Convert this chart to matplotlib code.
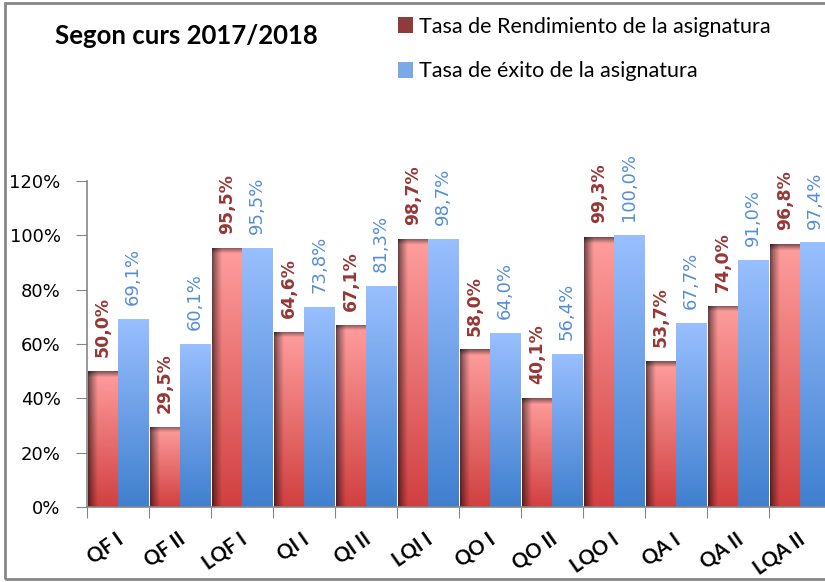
import numpy as np
import matplotlib
matplotlib.use("Agg")
import matplotlib.pyplot as plt
import matplotlib.transforms as mtransforms
from matplotlib.patches import Patch, Rectangle

categories = ["QF I", "QF II", "LQF I", "QI I", "QI II", "LQI I",
              "QO I", "QO II", "LQO I", "QA I", "QA II", "LQA II"]
rendimiento = [50.0, 29.5, 95.5, 64.6, 67.1, 98.7, 58.0, 40.1, 99.3, 53.7, 74.0, 96.8]
exito = [69.1, 60.1, 95.5, 73.8, 81.3, 98.7, 64.0, 56.4, 100.0, 67.7, 91.0, 97.4]
series_names = ["Tasa de Rendimiento de la asignatura", "Tasa de éxito de la asignatura"]
title = "Segon curs 2017/2018"
yticks = [0, 20, 40, 60, 80, 100, 120]

HEAD = ["Lato", "DejaVu Sans"]
NUM = ["DejaVu Sans"]
plt.rcParams['font.family'] = HEAD

W, H = 825, 582
fig = plt.figure(figsize=(W / 100, H / 100), dpi=100)
ax = fig.add_axes([87 / W, 1 - 507 / H, 744 / W, (507 - 181) / H])

x = np.arange(len(categories))
bw = 0.485
red_bars = ax.bar(x - bw / 2, rendimiento, width=bw, facecolor='none', edgecolor='none')
blue_bars = ax.bar(x + bw / 2, exito, width=bw, facecolor='none', edgecolor='none')


def gradient_img(h, kind):
    n, m = 300, 60
    t = np.linspace(0, 1, n)[:, None]
    s = np.linspace(0, 1, m)[None, :]
    if kind == 'red':
        top = np.array([1.0, 0.62, 0.62])
        bot = np.array([0.82, 0.25, 0.25])
    else:
        top = np.array([0.60, 0.75, 1.0])
        bot = np.array([0.25, 0.50, 0.81])
    img = top[None, None, :] * (1 - t[..., None]) + bot[None, None, :] * t[..., None]
    img = np.broadcast_to(img, (n, m, 3)).copy()
    if kind == 'red':
        left = 0.40 + 0.60 * np.clip(s / 0.32, 0, 1) ** 0.8
        img *= left[..., None]
        band = 2.2 / max(h, 1e-6)
        topf = 0.5 + 0.5 * np.clip(t / band, 0, 1)
        img *= topf[..., None]
    return np.clip(img, 0, 1)


for bars, kind in ((red_bars, 'red'), (blue_bars, 'blue')):
    for p in bars.patches:
        x0, w, h = p.get_x(), p.get_width(), p.get_height()
        im = ax.imshow(gradient_img(h, kind), extent=[x0, x0 + w, 0, h],
                       aspect='auto', origin='upper', zorder=2, interpolation='bilinear')
        im.set_clip_path(p)

red_txt = '#953735'
blue_txt = '#558ED5'
for xi, v in zip(x, rendimiento):
    ax.annotate(f"{v:.1f}%".replace('.', ','), (xi - bw / 2, v), xytext=(0, 10),
                textcoords='offset points', rotation=90, ha='center', va='bottom',
                color=red_txt, fontsize=12.4, fontweight='bold', family=NUM, zorder=3)
for xi, v in zip(x, exito):
    ax.annotate(f"{v:.1f}%".replace('.', ','), (xi + bw / 2, v), xytext=(0, 10),
                textcoords='offset points', rotation=90, ha='center', va='bottom',
                color=blue_txt, fontsize=13, family=NUM, zorder=3)

ax.set_xlim(-0.5, len(categories) - 0.5)
ax.set_ylim(0, 120)
ax.set_yticks(yticks)
ax.set_yticklabels([f"{v}%" for v in yticks], fontsize=13, family=NUM)
ax.set_xticks(np.arange(-0.5, len(categories), 1))
ax.set_xticklabels([])
ax.set_xticks(x, minor=True)
ax.set_xticklabels(categories, minor=True, rotation=35, fontsize=14.5,
                   fontweight='bold', ha='right', va='center', rotation_mode='anchor')
ax.tick_params(axis='x', which='minor', length=0, pad=22)
ax.tick_params(axis='x', which='major', length=8, color='#868686')
ax.tick_params(axis='y', length=8, color='#868686', pad=11)
shift = mtransforms.ScaledTranslation(3 / 100, 0, fig.dpi_scale_trans)
for lab in ax.get_xticklabels(minor=True):
    lab.set_transform(lab.get_transform() + shift)
for sp in ('top', 'right'):
    ax.spines[sp].set_visible(False)
for sp in ('left', 'bottom'):
    ax.spines[sp].set_color('#868686')
    ax.spines[sp].set_linewidth(1.2)

fig.text(55 / W, 1 - 36 / H, title, fontsize=18.5, fontweight='bold', va='center', ha='left')

handles = [Patch(facecolor='#8E3B3B', edgecolor='none'),
           Patch(facecolor='#7DA8E6', edgecolor='none')]
fig.legend(handles, series_names, loc='upper left', bbox_to_anchor=(389 / W, 1 - 8 / H),
           frameon=False, fontsize=15.5, handlelength=0.7, handleheight=0.8,
           handletextpad=0.3, labelspacing=1.15, borderaxespad=0)

fig.patches.append(Rectangle((5 / W, 1 - 579 / H), 1.2, (579 - 3) / H, transform=fig.transFigure,
                             fill=False, edgecolor='#868686', linewidth=2))

fig.savefig("out.png", dpi=100)
